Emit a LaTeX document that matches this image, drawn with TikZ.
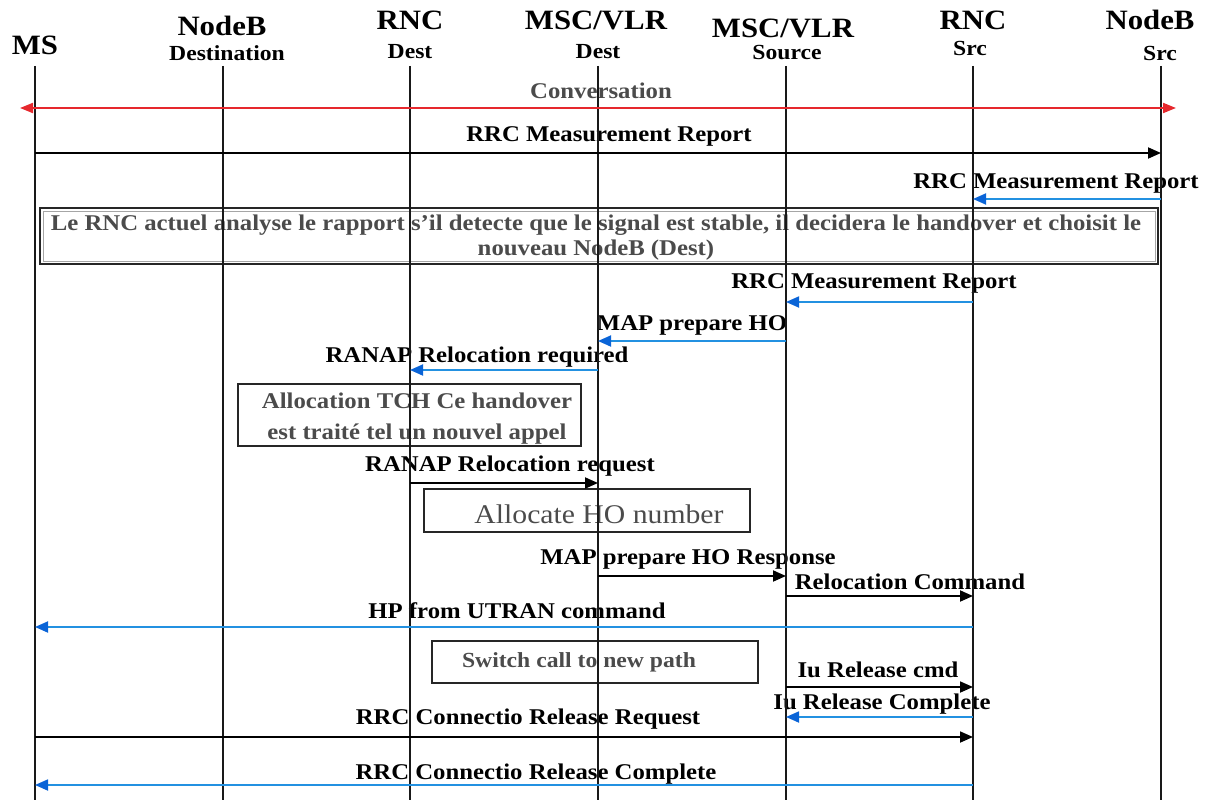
\documentclass[tikz,border=0pt]{standalone}
\usepackage{fontspec}
\setmainfont{Liberation Serif}[FakeStretch=1.1]
\usetikzlibrary{arrows.meta}
\definecolor{msgblue}{RGB}{35,145,225}
\definecolor{tipblue}{RGB}{10,100,215}
\definecolor{convred}{RGB}{230,40,45}
\definecolor{notegray}{RGB}{75,75,75}
\begin{document}
\begin{tikzpicture}[x=1pt,y=-1pt,
  head/.style={font=\fontsize{28}{30}\selectfont\bfseries},
  sub/.style={font=\fontsize{21.5}{23}\selectfont\bfseries},
  lbl/.style={font=\fontsize{22.5}{24}\selectfont\bfseries, inner sep=0pt},
  notetxt/.style={font=\fontsize{22.5}{25}\selectfont\bfseries, text=notegray, align=center, inner sep=0pt},
  notebox/.style={draw=black!85, line width=1.8pt},
  life/.style={draw=black!90, line width=1.8pt},
  blackmsg/.style={draw=black, line width=1.8pt, -{Triangle[length=13pt,width=11pt]}},
  bluemsg/.style={draw=msgblue, line width=1.8pt, -{Triangle[length=13pt,width=11pt,color=tipblue]}},
  conv/.style={draw=convred, line width=2pt, {Triangle[length=13pt,width=10pt]}-{Triangle[length=13pt,width=10pt]}}
]
\useasboundingbox (0,0) rectangle (1211,800);

% lifeline anchors
\coordinate (ms)  at (35,66);
\coordinate (nbd) at (223,66);
\coordinate (rnd) at (410,66);
\coordinate (mvd) at (598,66);
\coordinate (mvs) at (786,66);
\coordinate (rns) at (973,66);
\coordinate (nbs) at (1161,66);
\coordinate (bottom) at (0,800);

% headers
\node[head] (hms) at (35,45) {MS};
\node[head] (hnbd) at (222,26) {NodeB};
\node[sub]  (hnbd2) at (227,53) {Destination};
\node[head] (hrnd) at (410,20) {RNC};
\node[sub]  (hrnd2) at (410,52) {Dest};
\node[head] (hmvd) at (596,20) {MSC/VLR};
\node[sub]  (hmvd2) at (598,52) {Dest};
\node[head] (hmvs) at (783,28) {MSC/VLR};
\node[sub]  (hmvs2) at (787,53) {Source};
\node[head] (hrns) at (973,20) {RNC};
\node[sub]  (hrns2) at (970,48) {Src};
\node[head] (hnbs) at (1150,20) {NodeB};
\node[sub]  (hnbs2) at (1160,53) {Src};

% note boxes
\draw[notebox] (40,208) rectangle (1158,264);
\draw[draw=black!35, line width=0.8pt] (43,211) rectangle (1155,261);
\node[notetxt] (n1) at (596,238) {Le RNC actuel analyse le rapport s'il detecte que le signal est stable, il decidera le handover et choisit le\\nouveau NodeB (Dest)};
\draw[notebox] (238,384) rectangle (581,446);
\node[notetxt, font=\fontsize{22.5}{31}\selectfont\bfseries] (n2) at (417,419) {Allocation TCH Ce handover\\est traité tel un nouvel appel};
\draw[notebox] (424,489) rectangle (750,532);
\node[notetxt, font=\fontsize{27}{29}\selectfont] (n3) at (599,514) {Allocate HO number};
\draw[notebox] (432,641) rectangle (758,683);
\node[notetxt, font=\fontsize{21.5}{23}\selectfont\bfseries] (n4) at (579,662) {Switch call to new path};

% message labels
\node[lbl, text=notegray] (l1) at (601,91) {Conversation};
\node[lbl] (l2) at (609,136) {RRC Measurement Report};
\node[lbl] (l3) at (1056,183) {RRC Measurement Report};
\node[lbl] (l4) at (874,283) {RRC Measurement Report};
\node[lbl] (l5) at (692,325) {MAP prepare HO};
\node[lbl] (l6) at (477,357) {RANAP Relocation required};
\node[lbl] (l7) at (510,466) {RANAP Relocation request};
\node[lbl] (l8) at (688,559) {MAP prepare HO Response};
\node[lbl] (l9) at (910,582) {Relocation Command};
\node[lbl] (l10) at (517,611) {HP from UTRAN command};
\node[lbl] (l11) at (878,670) {Iu Release cmd};
\node[lbl] (l12) at (882,704) {Iu Release Complete};
\node[lbl] (l13) at (528,719) {RRC Connectio Release Request};
\node[lbl] (l14) at (536,774) {RRC Connectio Release Complete};

% lifelines
\foreach \l in {ms,nbd,rnd,mvd,mvs,rns,nbs}
  \draw[life] (\l) -- (\l |- bottom);

% message rows
\coordinate (y2) at (0,153);
\coordinate (y3) at (0,199);
\coordinate (y4) at (0,302);
\coordinate (y5) at (0,341);
\coordinate (y6) at (0,370);
\coordinate (y7) at (0,483);
\coordinate (y8) at (0,576);
\coordinate (y9) at (0,596);
\coordinate (y10) at (0,627);
\coordinate (y11) at (0,687);
\coordinate (y12) at (0,717);
\coordinate (y13) at (0,737);
\coordinate (y14) at (0,785);
\coordinate (cl) at (20,108);
\coordinate (cr) at (1176,108);

% messages
\draw[conv] (cl) -- (cr);
\draw[blackmsg] (ms |- y2) -- (nbs |- y2);
\draw[bluemsg] (nbs |- y3) -- (rns |- y3);
\draw[bluemsg] (rns |- y4) -- (mvs |- y4);
\draw[bluemsg] (mvs |- y5) -- (mvd |- y5);
\draw[bluemsg] (mvd |- y6) -- (rnd |- y6);
\draw[blackmsg] (rnd |- y7) -- (mvd |- y7);
\draw[blackmsg] (mvd |- y8) -- (mvs |- y8);
\draw[blackmsg] (mvs |- y9) -- (rns |- y9);
\draw[bluemsg] (rns |- y10) -- (ms |- y10);
\draw[blackmsg] (mvs |- y11) -- (rns |- y11);
\draw[bluemsg] (rns |- y12) -- (mvs |- y12);
\draw[blackmsg] (ms |- y13) -- (rns |- y13);
\draw[bluemsg] (rns |- y14) -- (ms |- y14);
\end{tikzpicture}
\end{document}
